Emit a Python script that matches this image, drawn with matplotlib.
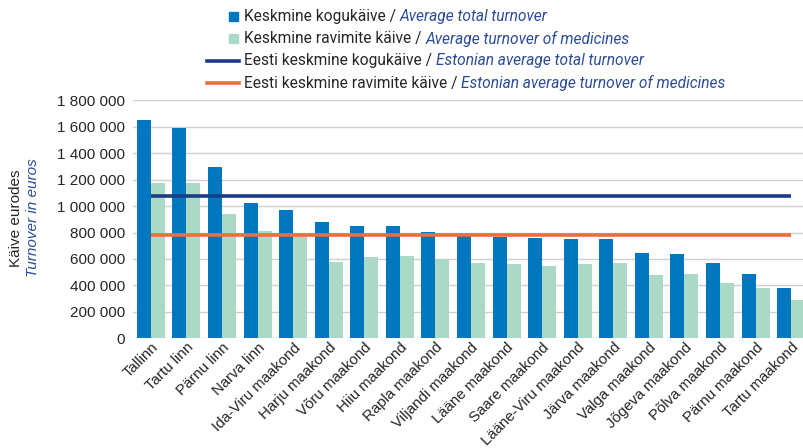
import matplotlib
matplotlib.use("Agg")
import numpy as np
import matplotlib.pyplot as plt
from matplotlib.ticker import FuncFormatter, MultipleLocator
from matplotlib.patches import Rectangle
from matplotlib.lines import Line2D

regions = ["Tallinn", "Tartu linn", "Pärnu linn", "Narva linn", "Ida-Viru maakond",
           "Harju maakond", "Võru maakond", "Hiiu maakond", "Rapla maakond",
           "Viljandi maakond", "Lääne maakond", "Saare maakond", "Lääne-Viru maakond",
           "Järva maakond", "Valga maakond", "Jõgeva maakond", "Põlva maakond",
           "Pärnu maakond", "Tartu maakond"]
total_turnover = [1651000, 1591000, 1296000, 1023000, 970000, 880000, 850000, 850000,
                  804000, 779000, 766000, 759000, 751000, 751000, 645000, 637000,
                  570000, 487000, 380000]
medicine_turnover = [1175000, 1175000, 940000, 812000, 785000, 577000, 615000, 622000,
                     600000, 570000, 562000, 547000, 562000, 570000, 479000, 487000,
                     418000, 380000, 290000]
estonia_total = 1078000
estonia_medicines = 783000

C_TOTAL = "#0077BE"
C_MED = "#ACD9C5"
C_EST_TOTAL = "#1B3C87"
C_EST_MED = "#F26B3A"
C_EN = "#2B4C9B"
C_TXT = "#262626"

plt.rcParams["font.family"] = ["Liberation Sans", "DejaVu Sans"]

fig = plt.figure(figsize=(8.04, 4.48), dpi=100)
ax = fig.add_axes([133 / 804, 1 - 338.3 / 448, 676 / 804, 238 / 448])

x = np.arange(len(regions))
w = 0.393
ax.bar(x - w / 2, total_turnover, w, color=C_TOTAL, zorder=2)
ax.bar(x + w / 2, medicine_turnover, w, color=C_MED, zorder=2)
ax.plot([x[0], x[-1]], [estonia_total] * 2, color=C_EST_TOTAL, lw=2.6, zorder=3,
        solid_capstyle="butt")
ax.plot([x[0], x[-1]], [estonia_medicines] * 2, color=C_EST_MED, lw=2.6, zorder=3,
        solid_capstyle="butt")

ax.set_xlim(-0.5, len(regions) - 0.5)
ax.set_ylim(0, 1800000)
ax.yaxis.set_major_locator(MultipleLocator(200000))
ax.yaxis.set_major_formatter(FuncFormatter(lambda v, p: f"{int(v):,}".replace(",", " ")))
ax.grid(axis="y", color="#CFCFCF", lw=1, zorder=0)
for s in ax.spines.values():
    s.set_visible(False)
ax.tick_params(axis="both", length=0, labelcolor=C_TXT)
ax.tick_params(axis="y", labelsize=11, pad=5.5)
ax.set_xticks(x)
ax.set_xticklabels(regions, rotation=45, ha="right", rotation_mode="anchor")
ax.tick_params(axis="x", labelsize=10.8, pad=1.5)

# y-axis title in two languages
fig.text(16 / 804, 1 - 218 / 448, "Käive eurodes", rotation=90, ha="center",
         va="center", fontsize=11, color=C_TXT)
fig.text(33 / 804, 1 - 218 / 448, "Turnover in euros", rotation=90, ha="center",
         va="center", fontsize=11, color=C_EN, style="italic")

# legend drawn by hand so each entry can mix plain and italic text
fig.canvas.draw()
renderer = fig.canvas.get_renderer()
entries = [
    ("bar", C_TOTAL, "Keskmine kogukäive / ", "Average total turnover"),
    ("bar", C_MED, "Keskmine ravimite käive / ", "Average turnover of medicines"),
    ("line", C_EST_TOTAL, "Eesti keskmine kogukäive / ", "Estonian average total turnover"),
    ("line", C_EST_MED, "Eesti keskmine ravimite käive / ", "Estonian average turnover of medicines"),
]
text_x = 244
for i, (kind, color, et, en) in enumerate(entries):
    yc = 17 + i * 22
    fy = 1 - yc / 448
    if kind == "bar":
        fig.add_artist(Rectangle((229 / 804, 1 - (yc + 4.5) / 448), 9 / 804, 9 / 448,
                                 color=color, transform=fig.transFigure))
    else:
        fig.add_artist(Line2D([207 / 804, 239 / 804], [fy, fy], color=color, lw=2.6,
                              transform=fig.transFigure))
    t1 = fig.text(text_x / 804, fy, et, ha="left", va="center", fontsize=11.2,
                  color=C_TXT, family=["Roboto", "DejaVu Sans"])
    bb = t1.get_window_extent(renderer)
    fig.text(bb.x1 / 804, fy, en, ha="left", va="center", fontsize=11.2,
             color=C_EN, style="italic", family=["Roboto", "DejaVu Sans"])

fig.savefig("out.png", dpi=100)
